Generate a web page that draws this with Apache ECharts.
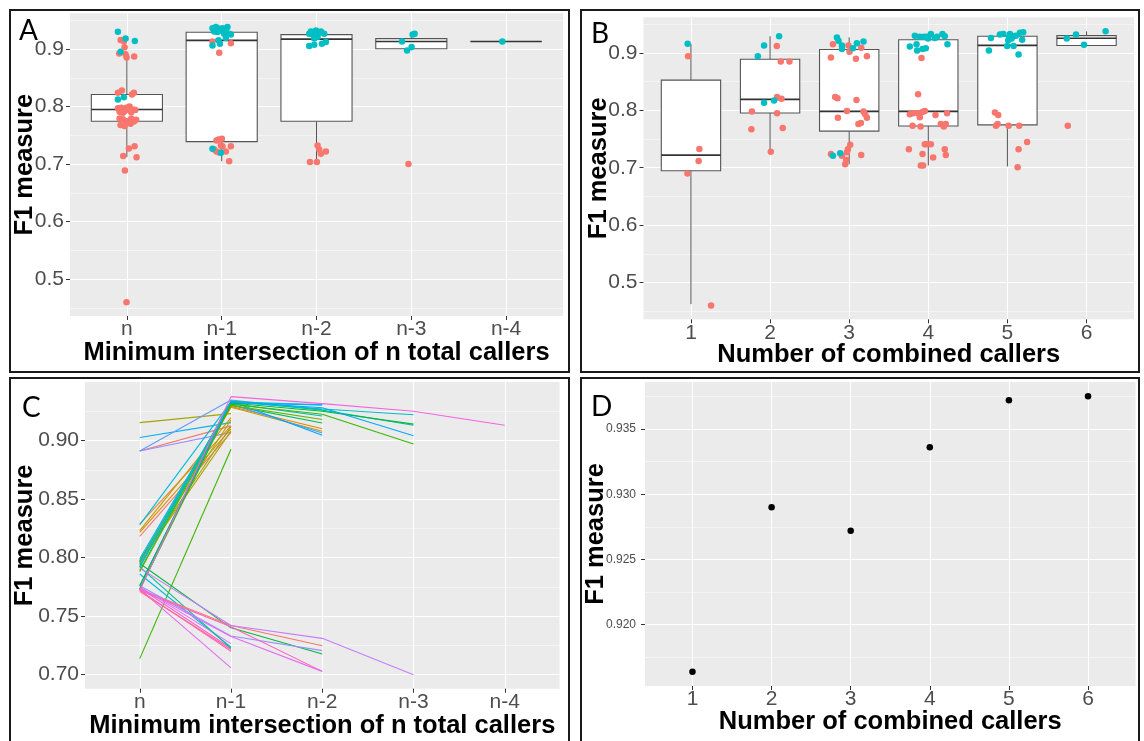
<!DOCTYPE html>
<html><head><meta charset="utf-8">
<script src="https://cdn.jsdelivr.net/npm/echarts@6/dist/echarts.min.js"></script>
<style>html,body{margin:0;padding:0;background:#fff}#c{width:1144px;height:741px}</style>
</head><body><div id="c"></div>
<script>
// ---------- data ----------
const aCategories = ['n', 'n-1', 'n-2', 'n-3', 'n-4'];
const bCategories = ['1', '2', '3', '4', '5', '6'];
const aYTicks = [0.5, 0.6, 0.7, 0.8, 0.9];
const aYMinor = [0.45, 0.55, 0.65, 0.75, 0.85, 0.95];
const cYTicks = [0.70, 0.75, 0.80, 0.85, 0.90];
const cYMinor = [0.725, 0.775, 0.825, 0.875, 0.925];
const dYTicks = [0.920, 0.925, 0.930, 0.935];
const dYMinor = [0.9175, 0.9225, 0.9275, 0.9325, 0.9375];

// box stats: [category, lower whisker, Q1, median, Q3, upper whisker]
const aBoxes = [
  [1, 0.712, 0.7745, 0.7948, 0.821, 0.891],
  [2, 0.705, 0.739, 0.915, 0.929, 0.938],
  [3, 0.7035, 0.7745, 0.917, 0.925, 0.932],
  [4, 0.8975, 0.9005, 0.913, 0.918, 0.927],
  [5, 0.913, 0.913, 0.913, 0.913, 0.913]
];
const bBoxes = [
  [1, 0.4624, 0.6948, 0.722, 0.8526, 0.916],
  [2, 0.728, 0.7954, 0.819, 0.889, 0.929],
  [3, 0.706, 0.7637, 0.798, 0.906, 0.927],
  [4, 0.704, 0.7728, 0.798, 0.923, 0.933],
  [5, 0.7023, 0.7746, 0.913, 0.929, 0.936],
  [6, 0.913, 0.913, 0.9255, 0.930, 0.9375]
];

// jittered points: [category, jitter offset, F1]
const aRed = [
  [1,-0.066,0.9156],[1,-0.032,0.913],[1,-0.024,0.903],[1,-0.081,0.892],[1,-0.014,0.891],[1,-0.003,0.885],[1,0.077,0.887],
  [1,-0.095,0.824],[1,-0.053,0.828],[1,0.053,0.821],[1,0.074,0.824],
  [1,-0.095,0.797],[1,-0.060,0.798],[1,-0.007,0.798],[1,0.028,0.800],[1,0.063,0.795],[1,0.088,0.794],[1,-0.077,0.791],[1,-0.025,0.792],[1,0.011,0.795],[1,-0.042,0.789],[1,0.046,0.790],
  [1,-0.077,0.779],[1,-0.042,0.778],[1,0.011,0.775],[1,0.046,0.779],[1,0.098,0.777],[1,-0.067,0.768],[1,-0.007,0.771],[1,0.039,0.770],[1,0.074,0.774],[1,-0.025,0.766],
  [1,0.081,0.731],[1,0.021,0.727],[1,-0.039,0.714],[1,0.102,0.712],[1,-0.021,0.689],[1,-0.004,0.460],
  [2,-0.097,0.913],[2,0.097,0.910],[2,-0.026,0.8936],
  [2,-0.034,0.7428],[2,0.002,0.744],[2,-0.055,0.741],[2,-0.008,0.7324],[2,0.008,0.731],[2,-0.079,0.7255],[2,-0.055,0.722],[2,-0.026,0.720],[2,0.044,0.722],[2,0.097,0.731],[2,0.079,0.7047],
  [3,0.011,0.7324],[3,0.028,0.7255],[3,0.046,0.718],[3,0.099,0.722],[3,-0.069,0.7035],[3,0.004,0.7035],
  [4,-0.03,0.700]
];
const aTeal = [
  [1,-0.095,0.930],[1,-0.014,0.918],[1,0.084,0.914],[1,-0.066,0.895],[1,-0.095,0.812],[1,-0.032,0.816],
  [2,-0.097,0.936],[2,-0.061,0.938],[2,-0.026,0.935],[2,0.008,0.936],[2,0.061,0.938],[2,-0.079,0.9305],[2,-0.044,0.9295],[2,-0.008,0.932],[2,0.044,0.9295],[2,0.079,0.9265],[2,0.097,0.925],[2,0.026,0.9265],[2,-0.034,0.915],[2,-0.097,0.906],[2,-0.019,0.909],[2,0.044,0.919],[2,-0.008,0.7198],[2,-0.097,0.7267],
  [3,-0.059,0.9305],[3,-0.006,0.932],[3,0.028,0.928],[3,0.081,0.9265],[3,-0.042,0.925],[3,0.011,0.921],[3,-0.024,0.918],[3,-0.077,0.905],[3,-0.024,0.9075],[3,0.057,0.909],[3,0.099,0.912],[3,0.046,0.9305],[3,-0.077,0.9265],
  [4,0.014,0.925],[4,0.035,0.9265],[4,-0.098,0.913],[4,0.003,0.9035],[4,-0.045,0.8975],
  [5,-0.04,0.913]
];
const bRed = [
  [1,-0.037,0.894],[1,0.106,0.7325],[1,0.097,0.7116],[1,-0.045,0.690],[1,0.254,0.460],
  [2,0.085,0.912],[2,0.135,0.885],[2,0.245,0.885],[2,0.088,0.823],[2,0.144,0.820],[2,-0.229,0.798],[2,0.088,0.795],[2,-0.236,0.767],[2,0.16,0.769],[2,0.009,0.728],
  [3,-0.206,0.915],[3,-0.009,0.913],[3,0.152,0.909],[3,0.004,0.902],[3,-0.231,0.892],[3,0.085,0.890],[3,0.224,0.894],
  [3,-0.177,0.823],[3,-0.148,0.821],[3,0.092,0.818],[3,-0.029,0.799],[3,0.181,0.798],[3,0.202,0.793],[3,0.224,0.787],[3,-0.143,0.787],[3,0.117,0.776],[3,0.148,0.778],
  [3,0.013,0.740],[3,-0.016,0.732],[3,-0.231,0.724],[3,-0.092,0.721],[3,-0.029,0.727],[3,-0.038,0.714],[3,-0.051,0.706],[3,0.152,0.722],
  [4,-0.086,0.891],[4,-0.129,0.828],[4,-0.234,0.793],[4,-0.192,0.795],[4,-0.129,0.795],[4,-0.107,0.788],[4,-0.073,0.797],[4,-0.044,0.799],[4,0.091,0.792],[4,0.237,0.795],
  [4,-0.199,0.773],[4,-0.098,0.772],[4,0.158,0.776],[4,0.196,0.772],[4,0.221,0.776],
  [4,-0.044,0.741],[4,-0.023,0.741],[4,0.032,0.741],[4,-0.246,0.732],[4,0.208,0.732],[4,-0.073,0.724],[4,0.061,0.718],[4,0.221,0.722],[4,-0.095,0.704],[4,-0.066,0.704],
  [5,-0.158,0.796],[5,-0.116,0.792],[5,-0.145,0.773],[5,-0.124,0.776],[5,0.015,0.773],[5,0.149,0.773],[5,0.249,0.745],[5,0.141,0.732],[5,0.129,0.701],
  [6,-0.237,0.773]
];
const bTeal = [
  [1,-0.042,0.916],
  [2,0.114,0.929],[2,-0.076,0.913],[2,-0.155,0.894],[2,-0.076,0.813],[2,0.051,0.817],
  [3,-0.155,0.927],[3,-0.135,0.921],[3,-0.092,0.913],[3,-0.092,0.907],[3,0.047,0.908],[3,0.097,0.917],[3,0.181,0.920],[3,-0.206,0.721],[3,-0.114,0.725],
  [4,-0.170,0.930],[4,-0.107,0.928],[4,-0.057,0.928],[4,-0.023,0.928],[4,0.032,0.933],[4,0.082,0.926],[4,0.111,0.928],[4,0.179,0.933],[4,0.208,0.929],[4,-0.003,0.925],
  [4,-0.234,0.911],[4,-0.149,0.915],[4,0.242,0.915],[4,-0.141,0.904],[4,-0.073,0.907],[4,-0.032,0.908],
  [5,-0.208,0.926],[5,-0.095,0.932],[5,-0.053,0.933],[5,0.032,0.933],[5,0.073,0.929],[5,0.053,0.925],[5,0.023,0.928],[5,0.010,0.922],[5,0.158,0.935],[5,0.199,0.936],[5,0.107,0.930],[5,0.187,0.923],[5,-0.003,0.912],[5,0.078,0.912],[5,-0.234,0.904],[5,0.141,0.897],
  [6,-0.25,0.925],[6,-0.133,0.932],[6,-0.032,0.914],[6,0.241,0.9375]
];

// panel C: F1 at [n, n-1, n-2, n-3, n-4] for each caller combination
const cLines = [
  [0.9153,0.923],[0.9026,0.9153],[0.891,0.9125],[0.891,0.907],[0.8287,0.9125],[0.823,0.9196],[0.8215,0.910],
  [0.8182,0.907],[0.7975,0.9175],[0.7965,0.912],[0.796,0.908],[0.7137,0.8926],[0.789,0.932],[0.773,0.7058],
  [0.774,0.7225],[0.772,0.720],[0.771,0.7215],[0.786,0.7235],[0.775,0.7265],[0.792,0.7225],
  [0.891,0.9346,0.9265],[0.828,0.933,0.9305],[0.799,0.932,0.9305],[0.797,0.930,0.915],[0.795,0.929,0.910],
  [0.795,0.9285,0.908],[0.793,0.931,0.9065],[0.776,0.9335,0.9045],[0.792,0.9315,0.921],[0.788,0.930,0.918],
  [0.795,0.740,0.7176],[0.773,0.742,0.7247],[0.776,0.733,0.7205],[0.772,0.741,0.7028],[0.774,0.7325,0.7028],
  [0.796,0.933,0.927,0.922],[0.792,0.934,0.926,0.913],[0.776,0.932,0.925,0.914],[0.773,0.933,0.928,0.904],
  [0.773,0.931,0.9225,0.897],[0.791,0.742,0.731,0.700],
  [0.772,0.9375,0.9315,0.925,0.913]
];
const cLineColors = [
  '#A3A500','#00B0F6','#F8766D','#9590FF','#EA8331','#C49A00','#D89000',
  '#F8766D','#AEA200','#8EAB00','#BB9D00','#39B600','#00BF7D','#E76BF3',
  '#FD61D1','#FF62BC','#FF6A98','#00B8E7','#DB72FB','#00C08B',
  '#619CFF','#00BCD8','#00B0F6','#00BD5C','#E58700',
  '#C99800','#35A2FF','#00A5FF','#00C0B8','#6BB100',
  '#00BA38','#F8766D','#9590FF','#FF61C3','#E76BF3',
  '#00BFC4','#00C1A3','#00BA38','#00A9FF',
  '#39B600','#C77CFF',
  '#F564E3'
];

// panel D
const dCallers = [1, 2, 3, 4, 5, 6];
const dF1 = [0.9164, 0.9290, 0.9272, 0.9336, 0.9372, 0.9375];

// ---------- chart ----------
const FONT = '"Liberation Sans", Arial, sans-serif';
const RED = '#F8766D', TEAL = '#00BFC4';

const gridSpecs = [
  {left: 70, top: 13.3, width: 493, height: 302.7},
  {left: 643.5, top: 17.3, width: 490.5, height: 302},
  {left: 85, top: 382, width: 474.5, height: 306.7},
  {left: 645, top: 382, width: 490.5, height: 304}
];
const grid = gridSpecs.map(g => Object.assign({
  show: true, backgroundColor: '#EBEBEB', borderWidth: 0,
  containLabel: false, outerBoundsMode: 'none'
}, g));

const nameStyle = {fontSize: 25.5, fontWeight: 'bold', color: '#000', fontFamily: FONT};

function xAxis(gi, cats, name, nameGap) {
  const vals = cats.map((_, i) => i + 1);
  return {
    type: 'value', gridIndex: gi, min: 0.4, max: cats.length + 0.6,
    axisLine: {show: false},
    axisTick: {show: true, customValues: vals, length: 4, lineStyle: {color: '#333', width: 1}},
    axisLabel: {customValues: vals, formatter: v => cats[Math.round(v) - 1],
      fontSize: 21, color: '#4D4D4D', fontFamily: FONT, margin: 3},
    splitLine: {show: true, lineStyle: {color: '#FFFFFF', width: 1}},
    name: name, nameLocation: 'middle', nameGap: nameGap, nameMoveOverlap: false,
    nameTextStyle: nameStyle
  };
}
function yAxis(gi, min, max, ticks, dec, fs, margin, nameGap) {
  return {
    type: 'value', gridIndex: gi, min: min, max: max,
    axisLine: {show: false},
    axisTick: {show: true, customValues: ticks, length: 4, lineStyle: {color: '#333', width: 1}},
    axisLabel: {customValues: ticks, formatter: v => v.toFixed(dec),
      fontSize: fs, color: '#4D4D4D', fontFamily: FONT, margin: margin},
    splitLine: {show: true, lineStyle: {color: '#FFFFFF', width: 1}},
    name: 'F1 measure', nameLocation: 'middle', nameGap: nameGap, nameMoveOverlap: false,
    nameTextStyle: nameStyle
  };
}
function yMinor(gi, min, max, ticks) {
  return {
    type: 'value', gridIndex: gi, min: min, max: max, position: 'left',
    axisLine: {show: false}, axisLabel: {show: false},
    axisTick: {show: false, customValues: ticks},
    splitLine: {show: true, lineStyle: {color: '#FFFFFF', width: 0.5}}
  };
}

function renderBox(params, api) {
  const x = api.value(0);
  const lo = api.coord([x, api.value(1)]);
  const q1 = api.coord([x, api.value(2)]);
  const md = api.coord([x, api.value(3)]);
  const q3 = api.coord([x, api.value(4)]);
  const hi = api.coord([x, api.value(5)]);
  const w = api.size([0.75, 0])[0];
  const h = w / 2;
  const stroke = '#555555';
  return {type: 'group', children: [
    {type: 'line', shape: {x1: hi[0], y1: hi[1], x2: q3[0], y2: q3[1]}, style: {stroke: stroke, lineWidth: 1}},
    {type: 'line', shape: {x1: q1[0], y1: q1[1], x2: lo[0], y2: lo[1]}, style: {stroke: stroke, lineWidth: 1}},
    {type: 'rect', shape: {x: q3[0] - h, y: q3[1], width: w, height: Math.max(q1[1] - q3[1], 0)},
      style: {fill: '#FFFFFF', stroke: stroke, lineWidth: 1.1}},
    {type: 'line', shape: {x1: md[0] - h, y1: md[1], x2: md[0] + h, y2: md[1]}, style: {stroke: '#333333', lineWidth: 1.7}}
  ]};
}

function boxSeries(gi, boxes) {
  return {type: 'custom', xAxisIndex: gi, yAxisIndex: gi, renderItem: renderBox,
    encode: {x: 0, y: [1, 2, 3, 4, 5]}, data: boxes, z: 2, silent: true};
}
function pointSeries(gi, pts, color) {
  return {type: 'scatter', xAxisIndex: gi, yAxisIndex: gi, symbol: 'circle', symbolSize: 6.5,
    itemStyle: {color: color, opacity: 1}, z: 3, silent: true,
    data: pts.map(p => [p[0] + p[1], p[2]])};
}

const series = [
  boxSeries(0, aBoxes), pointSeries(0, aRed, RED), pointSeries(0, aTeal, TEAL),
  boxSeries(1, bBoxes), pointSeries(1, bRed, RED), pointSeries(1, bTeal, TEAL)
];
cLines.forEach((vals, i) => {
  series.push({type: 'line', xAxisIndex: 2, yAxisIndex: 2, symbol: 'none', showSymbol: false,
    lineStyle: {color: cLineColors[i], width: 1.1}, itemStyle: {color: cLineColors[i]},
    silent: true, z: 2, data: vals.map((v, j) => [j + 1, v])});
});
series.push({type: 'scatter', xAxisIndex: 3, yAxisIndex: 3, symbol: 'circle', symbolSize: 6.5,
  itemStyle: {color: '#000000', opacity: 1}, silent: true, z: 3, data: dCallers.map((c, i) => [c, dF1[i]])});

function panelLetter(t, x, y) {
  return {type: 'text', x: x, y: y, z: 100,
    style: {text: t, fontSize: 28, fontFamily: 'Lato, "Liberation Sans", sans-serif', fill: '#000', verticalAlign: 'middle'}};
}
function border(x, y, w, h) {
  return {type: 'rect', z: 100, shape: {x: x, y: y, width: w, height: h},
    style: {fill: 'none', stroke: '#1a1a1a', lineWidth: 2}};
}

const option = {
  animation: false,
  backgroundColor: '#FFFFFF',
  grid: grid,
  xAxis: [
    xAxis(0, aCategories, 'Minimum intersection of n total callers', 24),
    xAxis(1, bCategories, 'Number of combined callers', 23),
    xAxis(2, aCategories, 'Minimum intersection of n total callers', 24),
    xAxis(3, bCategories, 'Number of combined callers', 23)
  ],
  yAxis: [
    yAxis(0, 0.436, 0.962, aYTicks, 1, 21, 6, 32),
    yAxis(1, 0.436, 0.962, aYTicks, 1, 21, 6, 32),
    yAxis(2, 0.688, 0.950, cYTicks, 2, 21, 6, 47),
    yAxis(3, 0.9153, 0.9386, dYTicks, 3, 12, 9, 36),
    yMinor(0, 0.436, 0.962, aYMinor),
    yMinor(1, 0.436, 0.962, aYMinor),
    yMinor(2, 0.688, 0.950, cYMinor),
    yMinor(3, 0.9153, 0.9386, dYMinor)
  ],
  series: series,
  graphic: [
    border(10, 10, 559, 362), border(581, 10, 558, 362),
    border(10, 378, 559, 372), border(581, 378, 558, 372),
    panelLetter('A', 19, 31), panelLetter('B', 591, 34),
    panelLetter('C', 22, 408), panelLetter('D', 591, 407)
  ]
};

const chart = echarts.init(document.getElementById('c'), null, {renderer: 'canvas'});
chart.setOption(option);
</script>
</body></html>
